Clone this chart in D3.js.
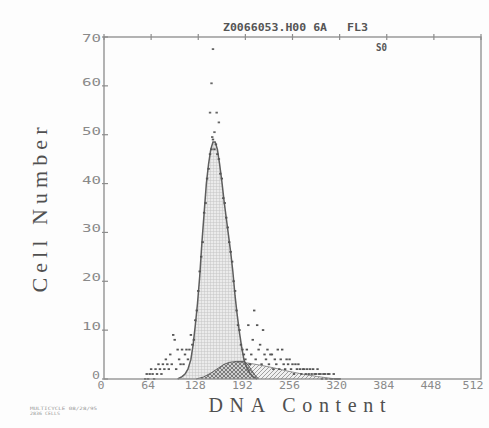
<!DOCTYPE html>
<html>
<head>
<meta charset="utf-8">
<script src="https://cdn.jsdelivr.net/npm/d3@7"></script>
<style>
  body { margin: 0; background: #fdfdfd; }
  svg { display: block; }
</style>
</head>
<body>
<svg id="chart"></svg>
<script>
// axis ticks
var xTicks = [0, 64, 128, 192, 256, 320, 384, 448, 512];
var yTicks = [0, 10, 20, 30, 40, 50, 60, 70];

// histogram channel counts (every 2nd channel)
var chans = [56,58,60,62,64,66,68,70,72,74,76,78,80,82,84,86,88,90,92,94,96,98,100,102,104,106,108,110,112,114,116,
  118,120,122,124,126,128,130,132,134,136,138,140,142,144,146,148,150,152,154,156,158,160,162,164,166,168,170,172,174,176,178,180,182,184,186,188,190,
  192,194,196,198,200,202,204,206,208,210,212,214,216,218,220,222,224,226,228,230,232,234,236,238,240,242,244,246,248,250,
  252,254,256,258,260,262,264,266,268,270,272,274,276,278,280,282,284,286,288,290,292,294,296,298,300,302,304,306,308,310,312,314,316,318,320];
var counts = [0,1,0,1,2,1,0,2,1,3,2,1,3,2,4,3,2,5,3,9,8,2,6,4,3,6,3,5,6,4,6,
  9,7,8,12,14,18,22,25,28,34,36,41,43,46,47,49,47,48,46,45,42,41,37,36,33,31,28,26,24,20,18,14,11,10,7,6,5,
  4,6,11,3,5,8,14,4,11,6,7,3,10,5,4,6,3,5,5,2,4,3,6,2,4,6,3,2,4,3,
  4,2,3,1,3,2,3,2,1,2,2,1,2,1,2,1,2,1,1,2,1,1,0,1,1,0,1,1,0,0,1,0,0,0,0];

// stray high points above the peak
var outChans = [148, 146, 144, 153, 156, 150, 147];
var outCounts = [67.5, 60.5, 54.5, 54.5, 52.5, 50.5, 49.5];

// G1 fit
var g1Chans = [100,106,110,114,118,121,124,127,130,133,136,139,142,145,148,151,154,157,160,163,166,169,172,175,178,181,184,187,190,194,198,202,208];
var g1Fit = [0,0.5,1,2,4,7,11,15.5,21,28,34,40,44,47,48.5,48.5,47,44,40.5,36.5,33,29.5,26,22,17,13,9.5,6.5,4,2.3,1.2,0.5,0];

// S phase fit
var sChans = [125,135,145,155,163,170,180,190,195,200,205,210];
var sFit = [0,0.4,1.2,2.2,3.0,3.4,3.6,3.6,3.0,1.9,0.8,0];

// G2 / tail fit
var tChans = [175,178,190,210,230,250,270,290,310,320];
var tFit = [0,3.5,3.4,2.9,2.3,1.6,1.0,0.5,0.1,0];

var W = 489, H = 428;
var svg = d3.select('#chart').attr('width', W).attr('height', H);

var x = d3.scaleLinear().domain([0, 512]).range([104, 481]);
var y = d3.scaleLinear().domain([0, 70]).range([379, 37]);

var defs = svg.append('defs');
var grid = defs.append('pattern').attr('id', 'grid').attr('patternUnits', 'userSpaceOnUse')
  .attr('width', 3).attr('height', 3);
grid.append('rect').attr('width', 3).attr('height', 3).attr('fill', '#ebebeb');
grid.append('path').attr('d', 'M0 0.3H3M0.3 0V3').attr('stroke', '#c2c2c2').attr('stroke-width', 0.6);

var cross = defs.append('pattern').attr('id', 'cross').attr('patternUnits', 'userSpaceOnUse')
  .attr('width', 4).attr('height', 4);
cross.append('rect').attr('width', 4).attr('height', 4).attr('fill', '#cfcfcf');
cross.append('path').attr('d', 'M0 0L4 4M4 0L0 4').attr('stroke', '#666').attr('stroke-width', 0.8);

var diag = defs.append('pattern').attr('id', 'diag').attr('patternUnits', 'userSpaceOnUse')
  .attr('width', 4).attr('height', 4);
diag.append('rect').attr('width', 4).attr('height', 4).attr('fill', '#f0f0f0');
diag.append('path').attr('d', 'M0 4L4 0M-1 1L1 -1M3 5L5 3').attr('stroke', '#8a8a8a').attr('stroke-width', 0.8);

function area(ch) {
  return d3.area()
    .x(function (d, i) { return x(ch[i]); })
    .y0(y(0))
    .y1(function (d) { return y(d); });
}
function line(ch) {
  return d3.line()
    .x(function (d, i) { return x(ch[i]); })
    .y(function (d) { return y(d); });
}

// fitted areas
svg.append('path').attr('d', area(g1Chans)(g1Fit)).attr('fill', 'url(#grid)');
svg.append('path').attr('d', area(tChans)(tFit)).attr('fill', 'url(#diag)');
svg.append('path').attr('d', area(sChans)(sFit)).attr('fill', 'url(#cross)');
svg.append('path').attr('d', line(g1Chans)(g1Fit)).attr('fill', 'none')
  .attr('stroke', '#5e5e5e').attr('stroke-width', 1.5);
svg.append('path').attr('d', line(tChans.slice(1))(tFit.slice(1))).attr('fill', 'none')
  .attr('stroke', '#777').attr('stroke-width', 0.8);
svg.append('path').attr('d', line(sChans)(sFit)).attr('fill', 'none')
  .attr('stroke', '#555').attr('stroke-width', 0.9);

// data points
svg.append('g').selectAll('rect')
  .data(counts)
  .enter()
  .append('rect')
  .attr('x', function (d, i) { return x(chans[i]) - 1.2; })
  .attr('y', function (d) { return y(d) - 1; })
  .attr('width', 2.4)
  .attr('height', 1.8)
  .attr('fill', '#555');
svg.append('g').selectAll('rect')
  .data(outCounts)
  .enter()
  .append('rect')
  .attr('x', function (d, i) { return x(outChans[i]) - 1.2; })
  .attr('y', function (d) { return y(d) - 1; })
  .attr('width', 2.4)
  .attr('height', 1.8)
  .attr('fill', '#666');

// frame
var axisCol = '#8c8c8c';
svg.append('rect').attr('x', x(0)).attr('y', y(70)).attr('width', x(512) - x(0)).attr('height', y(0) - y(70))
  .attr('fill', 'none').attr('stroke', axisCol).attr('stroke-width', 1.3);

// top ticks
svg.append('g').selectAll('line').data(xTicks).enter().append('line')
  .attr('x1', function (d) { return x(d); }).attr('x2', function (d) { return x(d); })
  .attr('y1', y(70) - 3).attr('y2', y(70) + 3)
  .attr('stroke', axisCol).attr('stroke-width', 1.2);

// y ticks
svg.append('g').selectAll('line').data(yTicks).enter().append('line')
  .attr('x1', x(0) - 2).attr('x2', x(0) + 4)
  .attr('y1', function (d) { return y(d); }).attr('y2', function (d) { return y(d); })
  .attr('stroke', axisCol).attr('stroke-width', 1.2);

var mono = "'DejaVu Sans Mono', monospace";
svg.append('g').selectAll('text').data(yTicks).enter().append('text')
  .attr('x', function (d) { return d === 0 ? 100 : 101; })
  .attr('y', function (d) { return y(d) + (d === 70 ? 5 : 0); })
  .attr('text-anchor', 'end')
  .attr('font-family', mono).attr('font-size', 10)
  .attr('textLength', function (d) { return d === 0 ? 8 : 19; })
  .attr('lengthAdjust', 'spacingAndGlyphs')
  .attr('fill', '#8a8a8a')
  .text(function (d) { return d; });

svg.append('g').selectAll('text').data(xTicks).enter().append('text')
  .attr('x', function (d) { return x(d) - (d === 512 ? 8 : 3); })
  .attr('y', 389)
  .attr('text-anchor', 'middle')
  .attr('font-family', mono).attr('font-size', 11)
  .attr('textLength', function (d) { return String(d).length * 7; })
  .attr('lengthAdjust', 'spacingAndGlyphs')
  .attr('fill', '#8a8a8a')
  .text(function (d) { return d; });

// titles
svg.append('text').attr('x', 223).attr('y', 31)
  .attr('font-family', mono).attr('font-size', 10).attr('font-weight', 'bold')
  .attr('textLength', 104).attr('lengthAdjust', 'spacingAndGlyphs')
  .attr('fill', '#555').text('Z0066053.H00 6A');
svg.append('text').attr('x', 347).attr('y', 31)
  .attr('font-family', mono).attr('font-size', 10).attr('font-weight', 'bold')
  .attr('textLength', 21).attr('lengthAdjust', 'spacingAndGlyphs')
  .attr('fill', '#555').text('FL3');
svg.append('text').attr('x', 376).attr('y', 51)
  .attr('font-family', mono).attr('font-size', 10).attr('font-weight', 'bold')
  .attr('textLength', 11).attr('lengthAdjust', 'spacingAndGlyphs')
  .attr('fill', '#555').text('S0');

var serif = "'Liberation Serif', 'DejaVu Serif', serif";
svg.append('text')
  .attr('transform', 'translate(47,' + 210 + ') rotate(-90)')
  .attr('text-anchor', 'middle')
  .attr('font-family', serif).attr('font-size', 22)
  .attr('textLength', 165).attr('lengthAdjust', 'spacing')
  .attr('fill', '#505050').text('Cell Number');
svg.append('text').attr('x', 297).attr('y', 412)
  .attr('text-anchor', 'middle')
  .attr('font-family', serif).attr('font-size', 20)
  .attr('textLength', 177).attr('lengthAdjust', 'spacing')
  .attr('fill', '#505050').text('DNA Content');

svg.append('text').attr('x', 30).attr('y', 410)
  .attr('font-family', mono).attr('font-size', 4.5)
  .attr('textLength', 67).attr('lengthAdjust', 'spacingAndGlyphs')
  .attr('fill', '#999').text('MULTICYCLE 08/28/95');
svg.append('text').attr('x', 30).attr('y', 415)
  .attr('font-family', mono).attr('font-size', 4.5)
  .attr('textLength', 30).attr('lengthAdjust', 'spacingAndGlyphs')
  .attr('fill', '#999').text('2836 CELLS');
</script>
</body>
</html>
